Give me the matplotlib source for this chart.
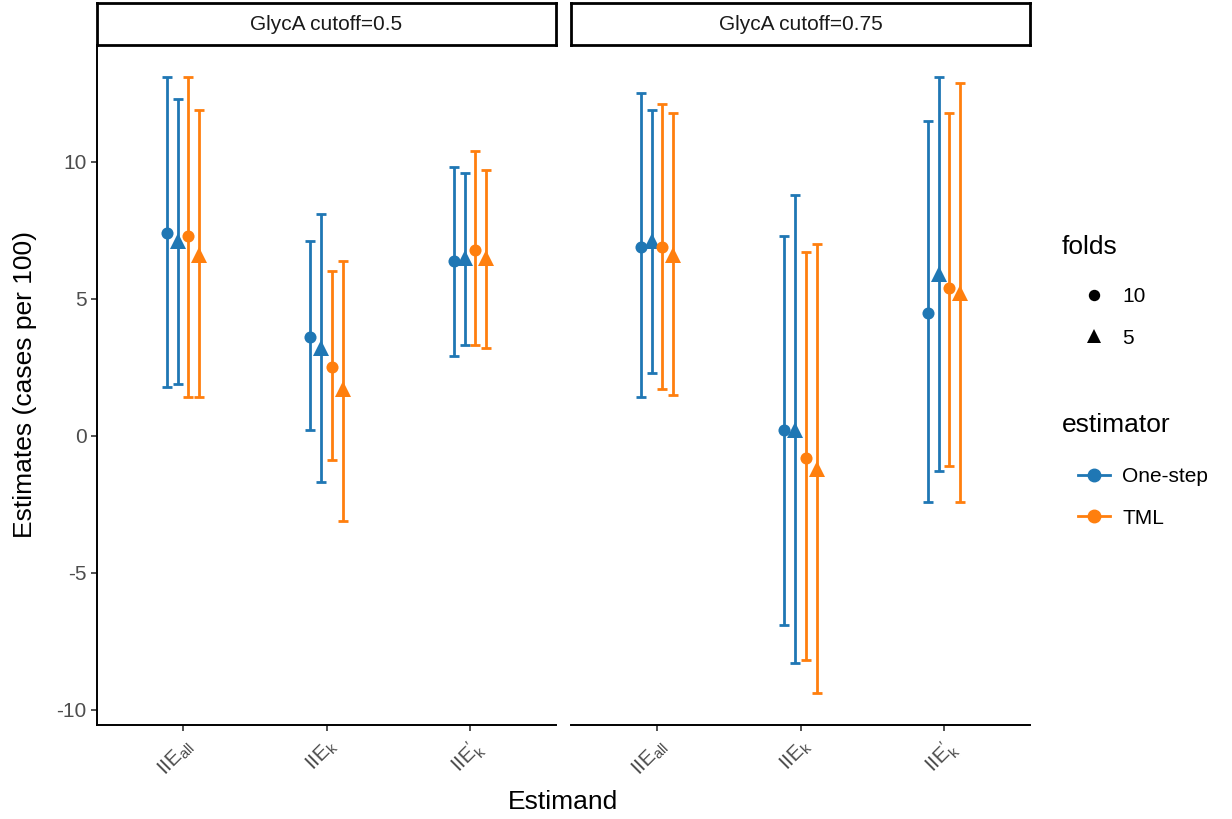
import matplotlib
matplotlib.use('Agg')
import matplotlib.pyplot as plt
from matplotlib.lines import Line2D
import numpy as np

BLUE = '#1F77B4'
ORANGE = '#FF7F0E'

plt.rcParams['font.family'] = ['Liberation Sans', 'DejaVu Sans']
plt.rcParams['mathtext.fontset'] = 'custom'
plt.rcParams['mathtext.it'] = 'Liberation Sans:italic'
plt.rcParams['mathtext.rm'] = 'Liberation Sans'
plt.rcParams['axes.unicode_minus'] = False

# ---- data ----
cutoffs = ['GlycA cutoff=0.5', 'GlycA cutoff=0.75']
estimand_labels = [r'$\mathrm{IIE}_{\mathrm{all}}$', r'$\mathrm{IIE}_{\mathrm{k}}$',
                   r'$\mathrm{IIE}_{\mathrm{k}}^{\prime}$']
series_estimator = ['One-step', 'One-step', 'TML', 'TML']
series_folds = ['10', '5', '10', '5']

# rows: One-step/10, One-step/5, TML/10, TML/5 ; cols: IIE_all, IIE_k, IIE_k'
est_c05 = [[7.4, 3.6, 6.4], [7.1, 3.2, 6.5], [7.3, 2.5, 6.8], [6.6, 1.7, 6.5]]
lo_c05 = [[1.8, 0.2, 2.9], [1.9, -1.7, 3.3], [1.4, -0.9, 3.3], [1.4, -3.1, 3.2]]
hi_c05 = [[13.1, 7.1, 9.8], [12.3, 8.1, 9.6], [13.1, 6.0, 10.4], [11.9, 6.4, 9.7]]

est_c075 = [[6.9, 0.2, 4.5], [7.1, 0.2, 5.9], [6.9, -0.8, 5.4], [6.6, -1.2, 5.2]]
lo_c075 = [[1.4, -6.9, -2.4], [2.3, -8.3, -1.3], [1.7, -8.2, -1.1], [1.5, -9.4, -2.4]]
hi_c075 = [[12.5, 7.3, 11.5], [11.9, 8.8, 13.1], [12.1, 6.7, 11.8], [11.8, 7.0, 12.9]]

colors = {'One-step': BLUE, 'TML': ORANGE}
markers = {'10': 'o', '5': '^'}
msizes = {'10': 8.7, '5': 11}

# ---- layout in pixels ----
W, H = 1232, 819
fig = plt.figure(figsize=(W / 100, H / 100), dpi=100)

def px_axes(l, t, r, b):
    return fig.add_axes([l / W, 1 - b / H, (r - l) / W, (b - t) / H])

panels = [(97, 556), (571, 1030)]
data = [(est_c05, lo_c05, hi_c05), (est_c075, lo_c075, hi_c075)]
offsets = np.array([-0.1125, -0.0375, 0.0375, 0.1125])

for p, ((l, r), (est, lo, hi)) in enumerate(zip(panels, data)):
    ax = px_axes(l, 45, r, 725)
    x = np.arange(1, 4)
    for s in range(4):
        e = np.array(est[s])
        yerr = [e - np.array(lo[s]), np.array(hi[s]) - e]
        c = colors[series_estimator[s]]
        f = series_folds[s]
        ax.errorbar(x + offsets[s], e, yerr=yerr, fmt='none', ecolor=c,
                    elinewidth=2, capsize=3.5, capthick=2)
        ax.plot(x + offsets[s], e, linestyle='none', marker=markers[f],
                color=c, markersize=msizes[f], markeredgewidth=0)
    ax.set_xlim(0.4, 3.6)
    ax.set_ylim(-10.56, 14.27)
    ax.set_xticks(x)
    ax.set_xticklabels(estimand_labels, rotation=45, ha='right', va='top',
                       rotation_mode='anchor', fontsize=16, color='#4D4D4D')
    ax.set_yticks([-10, -5, 0, 5, 10])
    ax.tick_params(axis='both', length=4, width=1.2, color='#333333',
                   labelsize=15, labelcolor='#4D4D4D')
    for side in ['top', 'right']:
        ax.spines[side].set_visible(False)
    ax.spines['bottom'].set_linewidth(1.4)
    ax.spines['left'].set_linewidth(1.4)
    if p == 1:
        ax.spines['left'].set_visible(False)
        ax.tick_params(axis='y', left=False, labelleft=False)

    # facet strip
    sax = px_axes(l, 3, r, 45)
    sax.set_xticks([])
    sax.set_yticks([])
    for sp in sax.spines.values():
        sp.set_linewidth(2)
        sp.set_color('black')
    sax.text(0.5, 0.5, cutoffs[p], ha='center', va='center', fontsize=15,
             color='#1A1A1A', transform=sax.transAxes)

fig.text(25 / W, 1 - 385 / H, 'Estimates (cases per 100)', rotation=90,
         ha='center', va='center', fontsize=19)
fig.text(563 / W, 1 - 802 / H, 'Estimand', ha='center', va='center', fontsize=19)

# ---- legends ----
leg_kw = dict(loc='upper left', frameon=False, fontsize=15, borderpad=0,
              borderaxespad=0, handlelength=1.55, labelspacing=1.09,
              handletextpad=0.58)

fig.text(1062 / W, 1 - 247 / H, 'folds', ha='left', va='center', fontsize=19)
fold_handles = [Line2D([], [], linestyle='none', marker=markers[f], color='black',
                       markersize=msizes[f] - 0.5, markeredgewidth=0)
                for f in ['10', '5']]
fig.legend(fold_handles, ['10', '5'], bbox_to_anchor=(1078 / W, 1 - 287 / H),
           **leg_kw)

fig.text(1062 / W, 1 - 425 / H, 'estimator', ha='left', va='center', fontsize=19)
est_handles = [Line2D([], [], color=colors[k], marker='o', markersize=9,
                      linewidth=2) for k in ['One-step', 'TML']]
fig.legend(est_handles, ['One-step', 'TML'],
           bbox_to_anchor=(1078 / W, 1 - 467 / H), **leg_kw)

fig.savefig('out.png', dpi=100)
